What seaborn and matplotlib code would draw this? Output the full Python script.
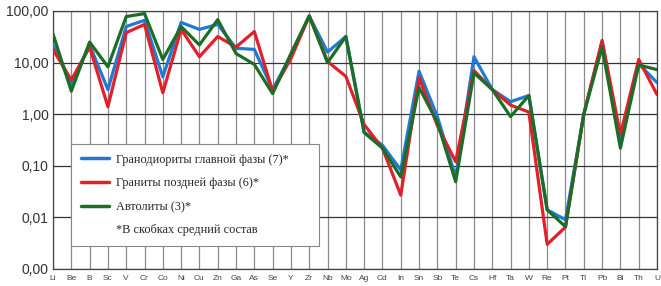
import numpy as np
import pandas as pd
import matplotlib
matplotlib.use("Agg")
import matplotlib.pyplot as plt
from matplotlib.lines import Line2D
from matplotlib.ticker import FixedLocator, FuncFormatter, NullLocator
import seaborn as sns

elements = ["Li", "Be", "B", "Sc", "V", "Cr", "Co", "Ni", "Cu", "Zn", "Ga", "As", "Se", "Y",
            "Zr", "Nb", "Mo", "Ag", "Cd", "In", "Sn", "Sb", "Te", "Cs", "Hf", "Ta", "W", "Re",
            "Pt", "Tl", "Pb", "Bi", "Th", "U"]

granodiorites = [22, 3.8, 22, 3.0, 50, 66, 5.3, 60, 44, 55, 19, 18, 3.0, 14,
                 80, 16, 32, 0.45, 0.25, 0.083, 6.8, 0.9, 0.06, 13, 3.0, 1.75, 2.3, 0.014,
                 0.009, 1.0, 25, 0.3, 9.5, 4.1]
granites = [18, 4.6, 20, 1.4, 38, 55, 2.6, 44, 13, 32, 20, 40, 2.8, 12,
            80, 10.5, 5.4, 0.63, 0.22, 0.027, 5.1, 0.6, 0.12, 7.0, 3.0, 1.5, 1.1, 0.003,
            0.0065, 1.0, 27, 0.4, 11.5, 2.4]
autoliths = [36, 2.8, 25, 8.3, 78, 89, 11.5, 50, 22, 68, 15, 9.2, 2.5, 15,
             80, 10, 32, 0.44, 0.22, 0.061, 3.3, 0.7, 0.049, 6.3, 3.0, 0.9, 2.3, 0.014,
             0.0066, 1.0, 20, 0.22, 9.0, 7.3]

labels = ["Гранодиориты главной фазы (7)*", "Граниты поздней фазы (6)*", "Автолиты (3)*"]
note = "*В скобках средний состав"
colors = ["#1f7ad6", "#e0202a", "#1b6e25"]

df = pd.concat([
    pd.DataFrame({"element": elements, "value": granodiorites, "series": labels[0]}),
    pd.DataFrame({"element": elements, "value": granites, "series": labels[1]}),
    pd.DataFrame({"element": elements, "value": autoliths, "series": labels[2]}),
])

sns.set_style("white")
plt.rcParams['font.family'] = ['Liberation Sans', 'DejaVu Sans']

fig = plt.figure(figsize=(6.61, 2.86), dpi=100)
ax = fig.add_axes([53 / 661, 1 - 269 / 286, 604 / 661, 258 / 286])

# draw order: blue, red, green on top
for lab, col in [(labels[0], colors[0]), (labels[1], colors[1]), (labels[2], colors[2])]:
    sns.lineplot(data=df[df.series == lab], x="element", y="value", color=col,
                 linewidth=2.3, ax=ax, sort=False, legend=False, zorder=3)

ax.set_yscale("log")
ax.set_ylim(0.001, 100)
ax.set_xlim(0, len(elements) - 1)
ax.yaxis.set_major_locator(FixedLocator([0.001, 0.01, 0.1, 1, 10, 100]))
ax.yaxis.set_minor_locator(NullLocator())
ax.yaxis.set_major_formatter(FuncFormatter(lambda v, p: f"{v:.2f}".replace(".", ",")))

ax.grid(axis="x", color="#8a8a8a", linewidth=0.9, zorder=1)
ax.grid(axis="y", color="#333333", linewidth=0.9, zorder=1)
ax.set_axisbelow(True)
for s in ax.spines.values():
    s.set_color("#444444")
    s.set_linewidth(0.9)

ax.tick_params(axis="y", length=0, pad=3, labelsize=10, labelcolor="#333333")
ax.tick_params(axis="x", length=0, pad=4, labelsize=6, labelcolor="#444444")
ax.set_xlabel("")
ax.set_ylabel("")

handles = [Line2D([], [], color=c, linewidth=2.5) for c in colors]
handles.append(Line2D([], [], color="none"))
leg = ax.legend(handles, labels + [note], loc="upper left",
                bbox_to_anchor=(0.03, 0.089, 0.41, 0.396), mode="expand",
                frameon=True, fancybox=False, edgecolor="#888888", framealpha=1,
                prop={"family": "Liberation Serif", "size": 8.8}, handlelength=2.3,
                handletextpad=0.6, labelspacing=0.95, borderpad=0.8, borderaxespad=0)
leg.get_frame().set_linewidth(0.8)
leg.set_zorder(5)

fig.savefig("out.png", dpi=100)
